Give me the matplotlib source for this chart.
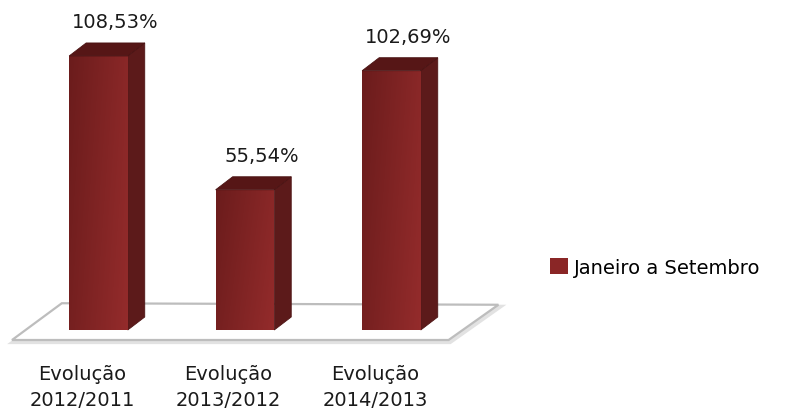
import matplotlib
matplotlib.use('Agg')
import matplotlib.pyplot as plt
import numpy as np
from matplotlib.patches import Polygon, Patch

categories = ['Evolução\n2012/2011', 'Evolução\n2013/2012', 'Evolução\n2014/2013']
values = [108.53, 55.54, 102.69]
series_name = 'Janeiro a Setembro'

plt.rcParams['font.family'] = ['DejaVu Sans']

fig = plt.figure(figsize=(7.87, 4.14), dpi=100)
ax = fig.add_axes([0, 0, 1, 1])
ax.set_xlim(-0.672, 4.70)
ax.set_ylim(-32.87, 131.09)
ax.axis('off')

w = 0.40      # front face width
dx = 0.116    # depth offset (x)
dy = 5.15     # depth offset (y, in value units)

# floor
floor = [(-0.59, -3.96), (2.39, -3.96), (2.73, 10.0), (-0.25, 10.6)]
shadow = [(x + 0.01, y - 0.8) for x, y in floor]
ax.add_patch(Polygon(shadow, closed=True, facecolor='none', edgecolor='#e2e2e2', lw=3, zorder=1))
ax.add_patch(Polygon(floor, closed=True, facecolor='white', edgecolor='#bdbdbd', lw=1.6, zorder=2))

dark = np.array([0.42, 0.11, 0.11])
light = np.array([0.58, 0.17, 0.17])
gx = np.linspace(0, 1, 64)
gy = np.linspace(1, 0, 64)
mix = 0.75 * gx[None, :] + 0.25 * gy[:, None]
grad = dark[None, None, :] * (1 - mix[..., None]) + light[None, None, :] * mix[..., None]

for i, v in enumerate(values):
    xl, xr = i - w / 2, i + w / 2
    front = Polygon([(xl, 0), (xr, 0), (xr, v), (xl, v)], closed=True,
                    facecolor='none', edgecolor='none', zorder=5)
    ax.add_patch(front)
    im = ax.imshow(grad, extent=(xl, xr, 0, v), origin='lower', aspect='auto', zorder=5)
    im.set_clip_path(front)
    side = [(xr, 0), (xr + dx, dy), (xr + dx, v + dy), (xr, v)]
    ax.add_patch(Polygon(side, closed=True, facecolor='#5c1a1a', edgecolor='#4e1515', lw=0.6, zorder=4))
    top = [(xl, v), (xr, v), (xr + dx, v + dy), (xl + dx, v + dy)]
    ax.add_patch(Polygon(top, closed=True, facecolor='#561616', edgecolor='#4a1313', lw=0.6, zorder=6))

    label = '{:.2f}%'.format(v).replace('.', ',')
    ax.text(i + 0.115, v + 13.5, label, ha='center', va='center', fontsize=14, color='#1a1a1a', zorder=7)
    ax.text(i - 0.113, -22.3, categories[i], ha='center', va='center', fontsize=14,
            color='#1a1a1a', linespacing=1.5)

ax.set_xlim(-0.672, 4.70)
ax.set_ylim(-32.87, 131.09)

handle = Patch(facecolor='#8a2626', edgecolor='none')
fig.legend([handle], [series_name], loc='center left', bbox_to_anchor=(0.699, 1 - 268 / 414),
           frameon=False, fontsize=14, handlelength=0.9, handleheight=0.9,
           handletextpad=0.35, borderpad=0, borderaxespad=0)

fig.savefig('out.png', dpi=100)
